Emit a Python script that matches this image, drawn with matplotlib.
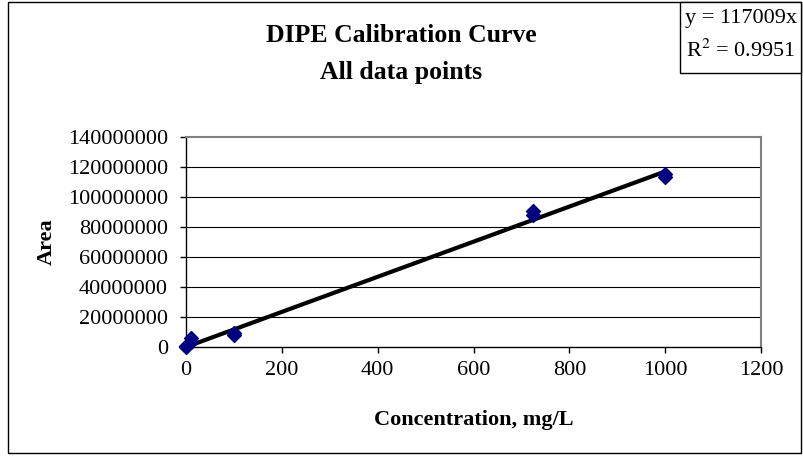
import matplotlib.pyplot as plt
from matplotlib.patches import Rectangle

# data
conc = [0, 1, 10, 10, 100, 100, 725, 725, 1000, 1000]
area = [0, 500000, 5800000, 3000000, 8200000, 9300000, 88000000, 90500000, 113000000, 115000000]
slope = 117009
fit_x = [0, 1000]
fit_y = [slope * v for v in fit_x]
xticks = [0, 200, 400, 600, 800, 1000, 1200]
yticks = [0, 20000000, 40000000, 60000000, 80000000, 100000000, 120000000, 140000000]

plt.rcParams['font.family'] = 'Liberation Serif'
plt.rcParams['mathtext.fontset'] = 'stix'

fig = plt.figure(figsize=(8.04, 4.61), dpi=100)
ax = fig.add_axes([186/804, 1 - 347/461, 575/804, 210/461])

# outer chart border
fig.patches.append(Rectangle((8/804, 1 - 453/461), 793/804, 451/461, transform=fig.transFigure,
                             fill=False, edgecolor='black', linewidth=1))

for y in yticks[1:-1]:
    ax.axhline(y, color='black', linewidth=0.8, zorder=1)

ax.plot(fit_x, fit_y, color='black', linewidth=3, zorder=2)
ax.scatter(conc, area, marker='D', s=50, color='#000080', zorder=3, clip_on=False)

ax.set_xlim(0, 1200)
ax.set_ylim(0, 140000000)
ax.set_xticks(xticks)
ax.set_yticks(yticks)
ax.set_xticklabels([str(v) for v in xticks], fontsize=16)
ax.set_yticklabels([str(v) for v in yticks], fontsize=16)
ax.tick_params(direction='out', length=4, width=1)
ax.tick_params(axis='y', pad=9)
ax.tick_params(axis='x', pad=6)

for s in ['top', 'right']:
    ax.spines[s].set_color('#808080')
    ax.spines[s].set_linewidth(1.5)
for s in ['left', 'bottom']:
    ax.spines[s].set_color('black')
    ax.spines[s].set_linewidth(1)

ax.set_xlabel('Concentration, mg/L', fontsize=16, fontweight='bold', labelpad=22)
ax.set_ylabel('Area', fontsize=16, fontweight='bold', labelpad=8)

fig.text(401/804, 1 - 35/461, 'DIPE Calibration Curve', ha='center', va='center', fontsize=18.5, fontweight='bold')
fig.text(401/804, 1 - 72/461, 'All data points', ha='center', va='center', fontsize=18.5, fontweight='bold')

# equation box
fig.patches.append(Rectangle((680/804, 1 - 73/461), 121/804, 71/461, transform=fig.transFigure,
                             fill=True, facecolor='white', edgecolor='black', linewidth=1))
fig.text(741/804, 1 - 18/461, 'y = 117009x', ha='center', va='center', fontsize=16)
fig.text(741/804, 1 - 51/461, r'R$^{2}$ = 0.9951', ha='center', va='center', fontsize=16)

fig.savefig('out.png', dpi=100)
